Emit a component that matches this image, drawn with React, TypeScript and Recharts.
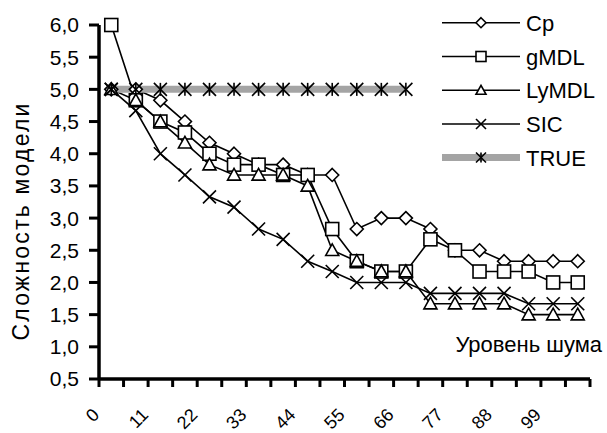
import React from 'react';
import { LineChart, Line, XAxis, YAxis, Legend, Label } from 'recharts';

// ---- data ----
const noiseLevels = [0, 5.5, 11, 16.5, 22, 27.5, 33, 38.5, 44, 49.5, 55, 60.5, 66, 71.5, 77, 82.5, 88, 93.5, 99, 104.5];
const cpValues = [5.0, 5.0, 4.83, 4.5, 4.17, 4.0, 3.83, 3.83, 3.67, 3.67, 2.83, 3.0, 3.0, 2.83, 2.5, 2.5, 2.33, 2.33, 2.33, 2.33];
const gmdlValues = [6.0, 4.83, 4.5, 4.33, 4.0, 3.83, 3.83, 3.67, 3.67, 2.83, 2.33, 2.17, 2.17, 2.67, 2.5, 2.17, 2.17, 2.17, 2.0, 2.0];
const lymdlValues = [5.0, 4.83, 4.5, 4.17, 3.83, 3.67, 3.67, 3.67, 3.5, 2.5, 2.33, 2.17, 2.17, 1.67, 1.67, 1.67, 1.67, 1.5, 1.5, 1.5];
const sicValues = [5.0, 4.67, 4.0, 3.67, 3.33, 3.17, 2.83, 2.67, 2.33, 2.17, 2.0, 2.0, 2.0, 1.83, 1.83, 1.83, 1.83, 1.67, 1.67, 1.67];
const trueValues: (number | null)[] = [5, 5, 5, 5, 5, 5, 5, 5, 5, 5, 5, 5, 5, null, null, null, null, null, null, null];
const yTicks = [0.5, 1.0, 1.5, 2.0, 2.5, 3.0, 3.5, 4.0, 4.5, 5.0, 5.5, 6.0];
const seriesNames = ['Cp', 'gMDL', 'LyMDL', 'SIC', 'TRUE'];
const yTitle = 'Сложность модели';
const xTitle = 'Уровень шума';

const data = noiseLevels.map((n, i) => ({
  noise: n,
  Cp: cpValues[i],
  gMDL: gmdlValues[i],
  LyMDL: lymdlValues[i],
  SIC: sicValues[i],
  TRUE: trueValues[i],
}));

// ---- layout ----
const W = 607;
const H = 433;
const MARGIN = { top: 25, right: 17, bottom: 0, left: 0 };
const Y_AXIS_W = 99;
const X_AXIS_H = 54;
const PLOT_W = W - MARGIN.left - MARGIN.right - Y_AXIS_W;
const N = noiseLevels.length;
const STEP = PLOT_W / N;
const FONT = '"Liberation Sans", Arial, sans-serif';
const GRAY = '#a4a4a4';

// ---- markers ----
type Shape = 'diamond' | 'square' | 'triangle' | 'x' | 'star';
const Marker = ({ shape, cx, cy, r = 6.5 }: { shape: Shape; cx: number; cy: number; r?: number }) => {
  const sw = 1.6;
  switch (shape) {
    case 'diamond':
      return <polygon points={`${cx},${cy - r} ${cx + r},${cy} ${cx},${cy + r} ${cx - r},${cy}`} fill="#fff" stroke="#000" strokeWidth={sw} />;
    case 'square':
      return <rect x={cx - r} y={cy - r} width={2 * r} height={2 * r} fill="#fff" stroke="#000" strokeWidth={sw} />;
    case 'triangle':
      return <polygon points={`${cx},${cy - r} ${cx + r},${cy + r * 0.8} ${cx - r},${cy + r * 0.8}`} fill="#fff" stroke="#000" strokeWidth={sw} />;
    case 'x':
      return (
        <g stroke="#000" strokeWidth={sw}>
          <line x1={cx - r} y1={cy - r} x2={cx + r} y2={cy + r} />
          <line x1={cx - r} y1={cy + r} x2={cx + r} y2={cy - r} />
        </g>
      );
    case 'star':
    default:
      return (
        <g stroke="#000" strokeWidth={sw}>
          <line x1={cx - r} y1={cy - r} x2={cx + r} y2={cy + r} />
          <line x1={cx - r} y1={cy + r} x2={cx + r} y2={cy - r} />
          <line x1={cx} y1={cy - r} x2={cx} y2={cy + r} />
        </g>
      );
  }
};

const shapeOf: Record<string, Shape> = { Cp: 'diamond', gMDL: 'square', LyMDL: 'triangle', SIC: 'x', TRUE: 'star' };

const makeDot = (name: string) => (p: any) => {
  if (p.cx == null || p.cy == null || p.value == null) return <g key={`${name}-${p.index}`} />;
  return (
    <g key={`${name}-${p.index}`}>
      <Marker shape={shapeOf[name]} cx={p.cx} cy={p.cy} />
    </g>
  );
};

// ---- axis ticks ----
const XTick = (props: any) => {
  const { x, y, payload } = props;
  const i = payload.index;
  const lx = x - 11;
  const ly = y + 37;
  return (
    <g>
      <line x1={x - STEP / 2} x2={x - STEP / 2} y1={y} y2={y + 8} stroke="#000" strokeWidth={3} />
      {i === N - 1 && <line x1={x + STEP / 2} x2={x + STEP / 2} y1={y} y2={y + 8} stroke="#000" strokeWidth={3} />}
      {i % 2 === 0 && (
        <text x={lx} y={ly} transform={`rotate(-45 ${lx} ${ly})`} textAnchor="end" fontSize={18} fontFamily={FONT} fill="#000">
          {String(payload.value)}
        </text>
      )}
    </g>
  );
};

const fmtY = (v: number) => v.toFixed(1).replace('.', ',');

// ---- legend ----
const LegendContent = () => {
  const rowY = [22.7, 56.5, 90.3, 124, 157.5];
  return (
    <svg width={172} height={175} style={{ display: 'block' }}>
      {seriesNames.map((name, i) => {
        const y = rowY[i];
        const isTrue = name === 'TRUE';
        return (
          <g key={name}>
            <line x1={7} x2={85} y1={y} y2={y} stroke={isTrue ? GRAY : '#000'} strokeWidth={isTrue ? 7 : 1.6} />
            <Marker shape={shapeOf[name]} cx={46} cy={y} r={5} />
            <text x={91} y={y + 8} fontSize={22} fontFamily={FONT} fill="#000">{name}</text>
          </g>
        );
      })}
    </svg>
  );
};

export default function App() {
  return (
    <div style={{ position: 'absolute', left: 0, top: 0, width: W, height: H, background: '#fff' }}>
      <LineChart width={W} height={H} data={data} margin={MARGIN}>
        <XAxis
          dataKey="noise"
          type="category"
          height={X_AXIS_H}
          interval={0}
          padding={{ left: STEP / 2, right: STEP / 2 }}
          tickLine={false}
          tickSize={0}
          tickMargin={0}
          axisLine={{ stroke: '#000', strokeWidth: 3.5 }}
          tick={<XTick />}
        >
          <Label
            content={(p: any) => {
              const vb = p.viewBox;
              return (
                <text x={vb.x + vb.width + 12} y={vb.y - 27} textAnchor="end" fontSize={22} fontFamily={FONT} fill="#000">
                  {xTitle}
                </text>
              );
            }}
          />
        </XAxis>
        <YAxis
          width={Y_AXIS_W}
          domain={[0.5, 6]}
          ticks={yTicks}
          interval={0}
          tickFormatter={fmtY}
          tickSize={10}
          tickMargin={10}
          tickLine={{ stroke: '#000', strokeWidth: 3 }}
          axisLine={{ stroke: '#000', strokeWidth: 3.5 }}
          tick={{ fill: '#000', fontSize: 21, fontFamily: FONT }}
        >
          <Label
            content={(p: any) => {
              const vb = p.viewBox;
              const cx = 29;
              const cy = vb.y + vb.height / 2 + 19;
              return (
                <text x={cx} y={cy} transform={`rotate(-90 ${cx} ${cy})`} textAnchor="middle" fontSize={23} letterSpacing={2.2} fontFamily={FONT} fill="#000">
                  {yTitle}
                </text>
              );
            }}
          />
        </YAxis>
        <Legend
          layout="horizontal"
          verticalAlign="middle"
          align="center"
          wrapperStyle={{ left: 435, top: 0, width: 172, height: 175 }}
          content={<LegendContent />}
        />
        <Line dataKey="Cp" name="Cp" type="linear" stroke="#000" strokeWidth={1.6} dot={makeDot('Cp')} activeDot={false} isAnimationActive={false} />
        <Line dataKey="gMDL" name="gMDL" type="linear" stroke="#000" strokeWidth={1.6} dot={makeDot('gMDL')} activeDot={false} isAnimationActive={false} />
        <Line dataKey="LyMDL" name="LyMDL" type="linear" stroke="#000" strokeWidth={1.6} dot={makeDot('LyMDL')} activeDot={false} isAnimationActive={false} />
        <Line dataKey="SIC" name="SIC" type="linear" stroke="#000" strokeWidth={1.6} dot={makeDot('SIC')} activeDot={false} isAnimationActive={false} />
        <Line dataKey="TRUE" name="TRUE" type="linear" stroke={GRAY} strokeWidth={7} dot={makeDot('TRUE')} activeDot={false} isAnimationActive={false} />
      </LineChart>
    </div>
  );
}
